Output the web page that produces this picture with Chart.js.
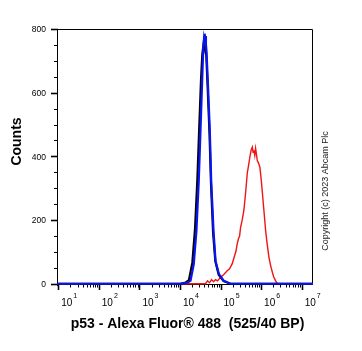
<!DOCTYPE html>
<html>
<head>
<meta charset="utf-8">
<script src="https://cdn.jsdelivr.net/npm/chart.js@4.4.0/dist/chart.umd.min.js"></script>
<style>
  html, body { margin: 0; padding: 0; background: #fff; }
  #wrap { width: 362px; height: 351px; }
</style>
</head>
<body>
<div id="wrap"><canvas id="histChart" width="362" height="351"></canvas></div>
<script>
// Flow cytometry histogram: p53 - Alexa Fluor 488, three overlaid samples

const X_MIN = 9.33;
const X_MAX = 1.9e7;
const Y_MIN = -4;
const Y_MAX = 800;

const X_DECADES = [10, 100, 1000, 10000, 100000, 1000000, 10000000];
const X_DECADE_EXP = ['1', '2', '3', '4', '5', '6', '7'];
const X_MINOR_MULT = [2, 3, 4, 5, 6, 7, 8, 9];
const Y_MAJOR = [0, 200, 400, 600, 800];
const Y_MINOR = [50, 100, 150, 250, 300, 350, 450, 500, 550, 650, 700, 750];

// blue sample
const BLUE_X = [9.5, 10200, 15100, 18200, 21900, 25500, 29100, 32100, 35300, 37400, 39200, 40300,
  41200, 42200, 43700, 45100, 48500, 54400, 58900, 67100, 75300, 90800, 120500, 176600, 1.9e7];
const BLUE_Y = [0, 0, 3, 9, 62, 167, 324, 482, 639, 734, 770, 785,
  758, 778, 752, 730, 639, 482, 324, 167, 72, 31, 9, 0, 0];

// black sample
const BLACK_X = [9.5, 10200, 13900, 16600, 20200, 23500, 26900, 29800, 33000, 35500, 38600, 40600,
  42000, 44500, 48000, 53500, 58000, 65500, 74500, 90000, 119000, 175000, 1.9e7];
const BLACK_Y = [0, 0, 4, 11, 66, 172, 330, 488, 640, 720, 758, 742,
  756, 718, 620, 470, 318, 160, 70, 28, 8, 0, 0];

// red sample
const RED_X = [9.5, 42700, 47800, 53500, 60000, 67100, 75300, 84300, 100000, 118600, 146200, 166700,
  194500, 221800, 240000, 258200, 278000, 295000, 311900, 339600, 375800, 414000, 456000, 490900,
  528400, 566200, 606700, 633900, 663700, 698200, 731100, 774500, 805400, 867000, 933300, 1011600,
  1089000, 1132400, 1218900, 1291200, 1406000, 1559600, 1717900, 1892300, 2037000, 2280400, 2511900, 1.9e7];
const RED_Y = [0, 0, 9, 3, 13, 6, 13, 9, 20, 28, 41, 47,
  63, 88, 102, 126, 142, 150, 177, 198, 230, 284, 347, 372,
  398, 419, 429, 413, 419, 403, 425, 403, 387, 378, 366, 324,
  277, 252, 205, 167, 126, 83, 57, 36, 22, 9, 0, 0];

const X_TITLE = 'p53 - Alexa Fluor\u00AE 488  (525/40 BP)';
const Y_TITLE = 'Counts';
const COPYRIGHT = 'Copyright (c) 2023 Abcam Plc';

function pts(xs, ys) {
  return xs.map((x, i) => ({ x: x, y: ys[i] }));
}

const axesPlugin = {
  id: 'flowAxes',
  beforeDatasetsDraw(chart) {
    const { ctx, chartArea: a, scales: { x, y } } = chart;
    ctx.save();
    ctx.strokeStyle = '#000';
    ctx.lineWidth = 1;
    // frame
    ctx.beginPath();
    ctx.moveTo(a.left + 0.5, a.bottom + 1);
    ctx.lineTo(a.left + 0.5, a.top + 0.5);
    ctx.lineTo(a.right - 0.5, a.top + 0.5);
    ctx.lineTo(a.right - 0.5, a.bottom - 0.5);
    ctx.lineTo(a.left, a.bottom - 0.5);
    ctx.stroke();

    // y ticks
    ctx.lineWidth = 1.6;
    Y_MAJOR.forEach(v => {
      const py = Math.round(y.getPixelForValue(v)) + 0.5;
      ctx.beginPath(); ctx.moveTo(a.left - 6, py); ctx.lineTo(a.left + 1, py); ctx.stroke();
    });
    ctx.lineWidth = 1;
    Y_MINOR.forEach(v => {
      const py = Math.round(y.getPixelForValue(v)) + 0.5;
      ctx.beginPath(); ctx.moveTo(a.left - 3, py); ctx.lineTo(a.left + 1, py); ctx.stroke();
    });

    // x ticks
    ctx.lineWidth = 1.6;
    X_DECADES.forEach(v => {
      const px = Math.round(x.getPixelForValue(v)) + 0.5;
      ctx.beginPath(); ctx.moveTo(px, a.bottom - 1); ctx.lineTo(px, a.bottom + 5); ctx.stroke();
    });
    ctx.lineWidth = 1;
    X_DECADES.forEach(d => {
      X_MINOR_MULT.forEach(m => {
        const v = d * m;
        if (v > X_MAX) return;
        const px = Math.round(x.getPixelForValue(v)) + 0.5;
        ctx.beginPath(); ctx.moveTo(px, a.bottom - 1); ctx.lineTo(px, a.bottom + 2.5); ctx.stroke();
      });
    });
    ctx.restore();
  },
  afterDraw(chart) {
    const { ctx, chartArea: a, scales: { x, y } } = chart;
    ctx.save();
    ctx.fillStyle = '#000';

    // y tick labels
    ctx.font = '8.5px "Liberation Sans", Arial, sans-serif';
    ctx.textAlign = 'right';
    ctx.textBaseline = 'middle';
    Y_MAJOR.forEach(v => {
      ctx.fillText(String(v), a.left - 11, y.getPixelForValue(v) + 1);
    });

    // x tick labels: 10 with superscript exponent
    ctx.textAlign = 'left';
    ctx.textBaseline = 'alphabetic';
    X_DECADES.forEach((v, i) => {
      const px = x.getPixelForValue(v) + 3;
      ctx.font = '10px "Liberation Sans", Arial, sans-serif';
      ctx.fillText('10', px, 306);
      const w = ctx.measureText('10').width;
      ctx.font = '7px "Liberation Sans", Arial, sans-serif';
      ctx.fillText(X_DECADE_EXP[i], px + w + 1, 298);
    });

    // axis titles
    ctx.font = 'bold 14px "Liberation Sans", Arial, sans-serif';
    ctx.textAlign = 'center';
    ctx.fillText(X_TITLE, 187.5, 328);

    ctx.save();
    ctx.translate(17, 141.5);
    ctx.rotate(-Math.PI / 2);
    ctx.textBaseline = 'middle';
    ctx.fillText(Y_TITLE, 0, 0);
    ctx.restore();

    ctx.save();
    ctx.translate(326, 191);
    ctx.rotate(-Math.PI / 2);
    ctx.textBaseline = 'middle';
    ctx.fillStyle = '#222';
    ctx.font = '9px "Liberation Sans", Arial, sans-serif';
    ctx.fillText(COPYRIGHT, 0, 0);
    ctx.restore();

    ctx.restore();
  }
};

new Chart(document.getElementById('histChart'), {
  type: 'line',
  data: {
    datasets: [
      { label: 'Blue', data: pts(BLUE_X, BLUE_Y), borderColor: '#0a14f0', borderWidth: 2.2, pointRadius: 0, tension: 0, fill: false },
      { label: 'Black', data: pts(BLACK_X, BLACK_Y), borderColor: '#000000', borderWidth: 2.2, pointRadius: 0, tension: 0, fill: false },
      { label: 'Red', data: pts(RED_X, RED_Y), borderColor: '#f01414', borderWidth: 1.4, pointRadius: 0, tension: 0, fill: false }
    ]
  },
  options: {
    responsive: false,
    animation: false,
    events: [],
    layout: { padding: { left: 57, top: 29, right: 49, bottom: 66 } },
    plugins: { legend: { display: false }, tooltip: { enabled: false } },
    scales: {
      x: { type: 'logarithmic', min: X_MIN, max: X_MAX, display: false },
      y: { type: 'linear', min: Y_MIN, max: Y_MAX, display: false }
    }
  },
  plugins: [axesPlugin]
});
</script>
</body>
</html>
